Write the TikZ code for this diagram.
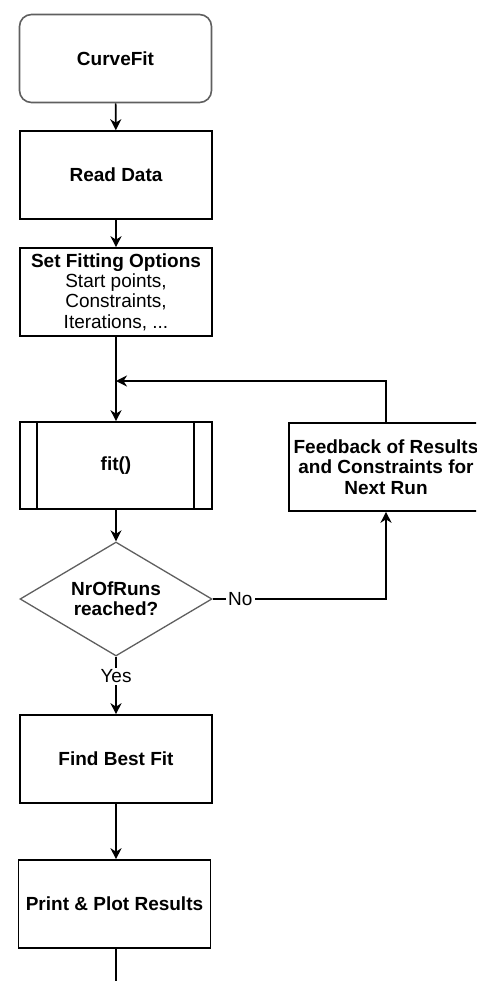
\documentclass[tikz,border=0pt]{standalone}
\usepackage{fontspec}
\setmainfont{Liberation Sans}
\usetikzlibrary{arrows.meta,shapes.geometric}
\definecolor{rimgray}{RGB}{95,95,95}
\begin{document}
\begin{tikzpicture}[x=1pt,y=-1pt,
  every node/.style={font=\fontsize{19}{20.3}\selectfont},
  box/.style={draw, line width=1.6pt, minimum width=192pt, minimum height=88pt, inner sep=1pt, align=center, font=\fontsize{19}{20.3}\selectfont\bfseries},
  rbox/.style={box, draw=rimgray, rounded corners=12pt},
  dia/.style={draw, draw=rimgray, line width=1.3pt, shape=diamond, shape aspect=1.68, minimum width=192pt, minimum height=114pt, inner sep=0pt, align=center, font=\fontsize{19}{20.3}\selectfont\bfseries},
  arr/.style={-{Stealth[length=11pt,width=11pt,inset=3.5pt]}, line width=1.6pt},
  lbl/.style={fill=white, inner sep=2pt, font=\fontsize{19}{20.3}\selectfont}
]
\useasboundingbox (0,0) rectangle (476,981);
\clip (0,0) rectangle (476,981);

\node[rbox] (cf) at (115.5,58.5) {CurveFit};
\node[box] (rd) at (116,175) {Read Data};
\node[box] (so) at (116,292) {Set Fitting Options\\\mdseries Start points,\\\mdseries Constraints,\\\mdseries Iterations, ...};
\node[box, minimum height=87pt] (fit) at (116,465.5) {fit()};
\draw[line width=1.6pt] ([xshift=18pt]fit.north west) -- ([xshift=18pt]fit.south west);
\draw[line width=1.6pt] ([xshift=-19pt]fit.north east) -- ([xshift=-19pt]fit.south east);
\node[dia] (dec) at (116,599) {NrOfRuns\\reached?};
\node[box, minimum width=194pt] (fb) at (386,467) {Feedback of Results\\and Constraints for\\Next Run};
\node[box] (bf) at (116,759) {Find Best Fit};
\node[box] (pp) at (114.5,904) {Print \& Plot Results};
\coordinate (j) at (116,381);
\coordinate (end) at (116,995);

\draw[arr] (cf) -- (rd);
\draw[arr] (rd) -- (so);
\draw[arr] (so) -- (fit);
\draw[arr] (fit) -- (dec);
\draw[arr] (dec.south) -- node[lbl, pos=0.34] {Yes} (bf.north);
\draw[arr] (dec.east) -| node[lbl, pos=0.08] {No} (fb.south);
\draw[arr] (fb.north) |- (j);
\draw[arr] (bf) -- (pp.north -| bf.south);
\draw[arr] (pp.south -| bf.south) -- (end);
\end{tikzpicture}
\end{document}
